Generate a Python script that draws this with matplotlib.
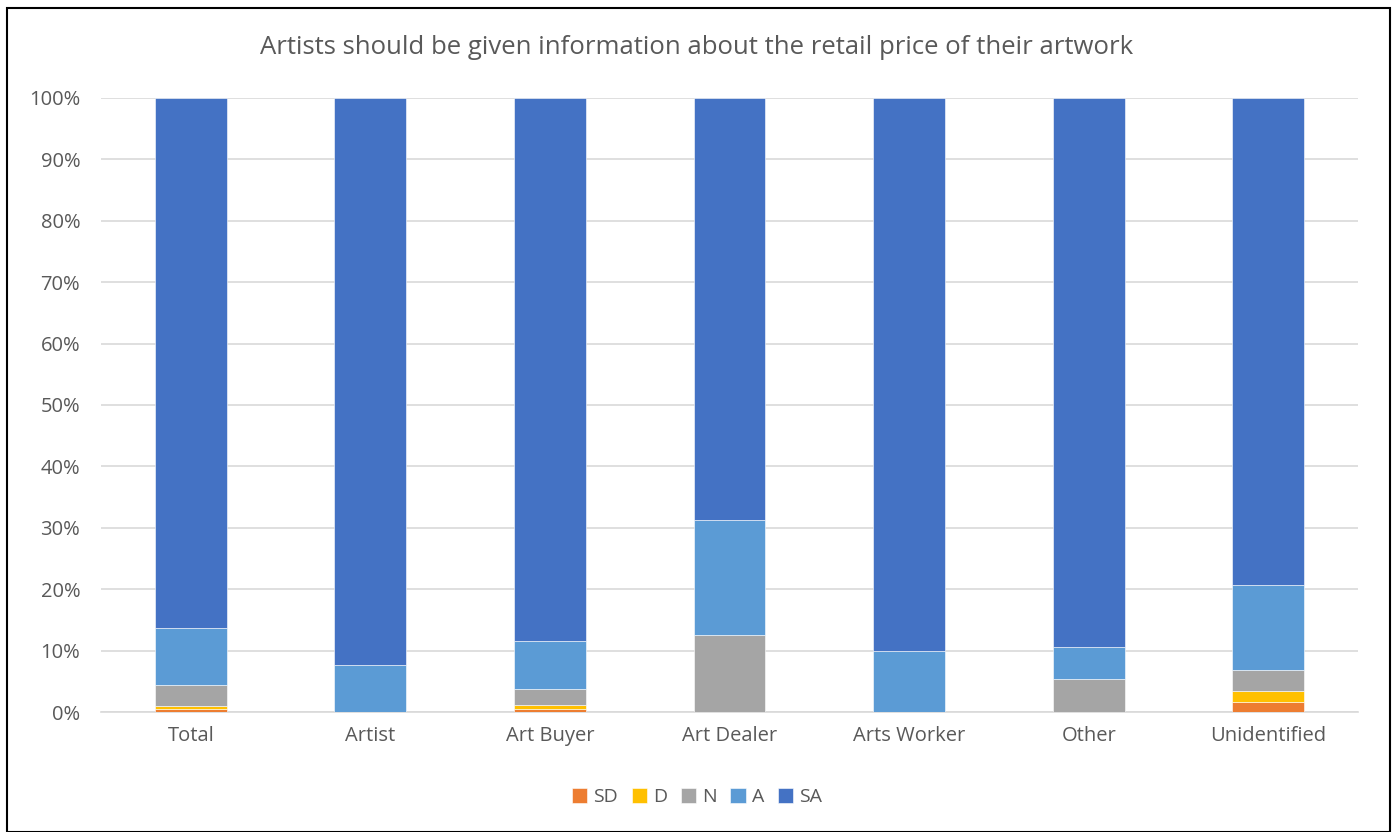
import numpy as np
import matplotlib.pyplot as plt
from matplotlib.patches import Rectangle

plt.rcParams['font.family'] = ['Open Sans', 'DejaVu Sans']

CATEGORIES = ["Total", "Artist", "Art Buyer", "Art Dealer", "Arts Worker", "Other", "Unidentified"]
SERIES = ["SD", "D", "N", "A", "SA"]
COLORS = ["#ED7D31", "#FFC000", "#A5A5A5", "#5B9BD5", "#4472C4"]

# shares in percent per response group
SD = [0.5, 0.0, 0.5, 0.0, 0.0, 0.0, 1.7]
D = [0.5, 0.0, 0.6, 0.0, 0.0, 0.0, 1.7]
N = [3.4, 0.0, 2.6, 12.5, 0.0, 5.3, 3.4]
A = [9.2, 7.7, 7.9, 18.75, 10.0, 5.3, 13.9]
SA = [100 - sum(v) for v in zip(SD, D, N, A)]

TITLE = "Artists should be given information about the retail price of their artwork"

fig = plt.figure(figsize=(13.94, 8.32), dpi=100)
ax = fig.add_axes([101 / 1394, 1 - 712 / 832, 1257 / 1394, 614 / 832])

x = np.arange(len(CATEGORIES))
bottom = np.zeros(len(CATEGORIES))
handles = []
for name, vals, col in zip(SERIES, [SD, D, N, A, SA], COLORS):
    vals = np.array(vals) / 100
    b = ax.bar(x, vals, width=0.4, bottom=bottom, color=col, label=name,
               edgecolor="white", linewidth=0.4, zorder=3)
    bottom += vals
    handles.append(b)

ax.set_xlim(-0.5, len(CATEGORIES) - 0.5)
ax.set_ylim(0, 1)
ax.set_yticks(np.arange(0, 1.01, 0.1))
ax.set_yticklabels([f"{int(round(t * 100))}%" for t in np.arange(0, 1.01, 0.1)])
ax.set_xticks(x)
ax.set_xticklabels(CATEGORIES)
ax.grid(axis="y", color="#D9D9D9", linewidth=1.2, zorder=0)
for s in ["top", "right", "left"]:
    ax.spines[s].set_visible(False)
ax.spines["bottom"].set_color("#D9D9D9")
ax.spines["bottom"].set_linewidth(1.2)
ax.tick_params(axis="both", length=0, colors="#595959", labelsize=14.5)
ax.tick_params(axis="x", pad=10)
ax.tick_params(axis="y", pad=15)

fig.text(0.5, 1 - 48 / 832, TITLE, ha="center", va="center", fontsize=18.5, color="#595959")

fig.legend(handles=handles, labels=SERIES, loc="center", bbox_to_anchor=(0.5, 1 - 797 / 832),
           ncol=5, frameon=False, fontsize=14, handlelength=0.8, handleheight=0.8,
           handletextpad=0.3, columnspacing=0.7, labelcolor="#595959")

# outer chart border
fig.patches.append(Rectangle((7 / 1394, 0), 1383 / 1394, 824 / 832, transform=fig.transFigure,
                             fill=False, edgecolor="black", linewidth=1.5))

fig.savefig("out.png", dpi=100)
